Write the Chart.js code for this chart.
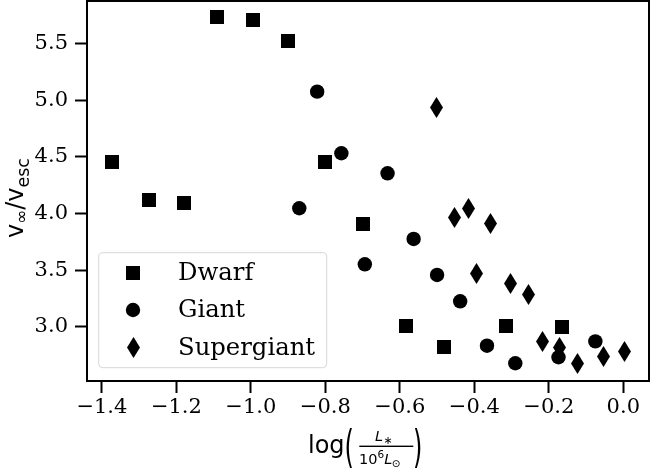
<!DOCTYPE html>
<html><head><meta charset="utf-8">
<script src="https://cdn.jsdelivr.net/npm/chart.js@4"></script>
<style>html,body{margin:0;padding:0;background:#fff}#wrap{width:650px;height:475px}</style>
</head><body><div id="wrap"><canvas id="c" width="650" height="475"></canvas></div>
<script>
// ---- data ----
const seriesNames = ['Dwarf', 'Giant', 'Supergiant'];
const dwarfX = [-1.372, -1.273, -1.180, -1.090, -0.995, -0.900, -0.800, -0.699, -0.583, -0.482, -0.314, -0.165];
const dwarfY = [4.452, 4.117, 4.090, 5.733, 5.707, 5.527, 4.452, 3.905, 3.006, 2.818, 3.006, 2.994];
const giantX = [-0.870, -0.822, -0.757, -0.694, -0.633, -0.563, -0.500, -0.438, -0.366, -0.290, -0.174, -0.075];
const giantY = [4.046, 5.076, 4.532, 3.551, 4.355, 3.775, 3.457, 3.224, 2.832, 2.677, 2.730, 2.870];
const superX = [-0.502, -0.453, -0.415, -0.393, -0.357, -0.304, -0.255, -0.216, -0.172, -0.123, -0.054, 0.003];
const superY = [4.938, 3.963, 4.046, 3.472, 3.910, 3.383, 3.280, 2.865, 2.815, 2.677, 2.738, 2.779];
const xTicks = [-1.4, -1.2, -1.0, -0.8, -0.6, -0.4, -0.2, 0.0];
const yTicks = [3.0, 3.5, 4.0, 4.5, 5.0, 5.5];
const xRange = [-1.44, 0.069];
const yRange = [2.52, 5.877];

// ---- marker images ----
function mk(w, h, draw) {
  const c = document.createElement('canvas'); c.width = w; c.height = h;
  const g = c.getContext('2d'); g.fillStyle = '#000'; draw(g, w, h); return c;
}
const sqImg = mk(14, 14, (g, w, h) => g.fillRect(0, 0, w, h));
const diImg = mk(13, 21, (g, w, h) => { g.beginPath(); g.moveTo(6.5, 0); g.lineTo(13, 10.5); g.lineTo(6.5, 21); g.lineTo(0, 10.5); g.closePath(); g.fill(); });
const markerStyles = [sqImg, 'circle', diImg];
const CIRCLE_R = 7.2;

const toPts = (xs, ys) => xs.map((x, i) => ({ x: x, y: ys[i] }));
const fmt = v => (v < 0 ? '\u2212' : '') + Math.abs(v).toFixed(1);
const tickFont = { family: 'DejaVu Serif', size: 21 };
const noPad = s => { s.paddingTop = 0; s.paddingBottom = 0; s.paddingLeft = 0; s.paddingRight = 0; };

const crisp = {
  id: 'crisp',
  beforeDatasetsDraw(chart) { chart.ctx.imageSmoothingEnabled = false; },
  afterDatasetsDraw(chart) { chart.ctx.imageSmoothingEnabled = true; }
};

const frame = {
  id: 'frame',
  afterDraw(chart) {
    const ctx = chart.ctx, a = chart.chartArea;
    ctx.save();
    ctx.strokeStyle = '#000'; ctx.lineWidth = 2;
    ctx.strokeRect(a.left, a.top, a.right - a.left, a.bottom - a.top);

    // legend
    const lx = 98.7, ly = 252.7, lw = 228, lh = 115, r = 4;
    ctx.beginPath();
    ctx.moveTo(lx + r, ly); ctx.lineTo(lx + lw - r, ly); ctx.arcTo(lx + lw, ly, lx + lw, ly + r, r);
    ctx.lineTo(lx + lw, ly + lh - r); ctx.arcTo(lx + lw, ly + lh, lx + lw - r, ly + lh, r);
    ctx.lineTo(lx + r, ly + lh); ctx.arcTo(lx, ly + lh, lx, ly + lh - r, r);
    ctx.lineTo(lx, ly + r); ctx.arcTo(lx, ly, lx + r, ly, r); ctx.closePath();
    ctx.fillStyle = 'rgba(255,255,255,0.8)'; ctx.fill();
    ctx.strokeStyle = 'rgba(204,204,204,0.8)'; ctx.lineWidth = 1; ctx.stroke();
    const rows = [272.7, 310, 347.3];
    ctx.fillStyle = '#000';
    ctx.font = '24.3px "DejaVu Serif"'; ctx.textBaseline = 'middle'; ctx.textAlign = 'left';
    chart.data.datasets.forEach((ds, i) => {
      const st = ds.pointStyle;
      if (typeof st === 'string') {
        ctx.beginPath(); ctx.arc(133, rows[i], CIRCLE_R, 0, Math.PI * 2); ctx.fill();
      } else {
        ctx.drawImage(st, Math.round(133 - st.width / 2), Math.round(rows[i] - st.height / 2));
      }
      ctx.fillText(ds.label, 178, rows[i] + 1);
    });

    // x label: log( L* / 10^6 L_sun )
    ctx.textBaseline = 'alphabetic';
    ctx.font = '24px "DejaVu Sans"';
    ctx.fillText('log', 308, 453);
    const parenScale = 1.87;
    ctx.save(); ctx.translate(344.5, 462); ctx.scale(1, parenScale); ctx.fillText('(', 0, 0); ctx.restore();
    ctx.save(); ctx.translate(413, 462); ctx.scale(1, parenScale); ctx.fillText(')', 0, 0); ctx.restore();
    ctx.fillRect(359.3, 445.6, 54, 1.4);
    // numerator
    ctx.font = 'italic 14.5px "DejaVu Sans"';
    ctx.fillText('L', 375, 441.3);
    let nx = 375 + ctx.measureText('L').width;
    ctx.font = '11px "DejaVu Sans"';
    ctx.fillText('\u2217', nx + 0.5, 443.5);
    // denominator
    ctx.font = '14.5px "DejaVu Sans"';
    ctx.fillText('10', 359, 464);
    let dx = 359 + ctx.measureText('10').width;
    ctx.font = '10.5px "DejaVu Sans"';
    ctx.fillText('6', dx, 458);
    dx += ctx.measureText('6').width;
    ctx.font = 'italic 14.5px "DejaVu Sans"';
    ctx.fillText('L', dx, 464);
    dx += ctx.measureText('L').width;
    ctx.font = '10.5px "DejaVu Sans"';
    ctx.fillText('\u2299', dx - 0.5, 467);

    // y label: v_inf / v_esc
    const pieces = [
      { t: 'v', f: '24px "DejaVu Sans"', dy: 0 },
      { t: '\u221E', f: '16.8px "DejaVu Sans"', dy: 4 },
      { t: '/', f: '24px "DejaVu Sans"', dy: 0 },
      { t: 'v', f: '24px "DejaVu Sans"', dy: 0 },
      { t: 'esc', f: '17.5px "DejaVu Sans"', dy: 5.5 }
    ];
    let tw = 0;
    pieces.forEach(p => { ctx.font = p.f; p.w = ctx.measureText(p.t).width; tw += p.w; });
    ctx.translate(23, 198); ctx.rotate(-Math.PI / 2);
    let px = -tw / 2;
    pieces.forEach(p => { ctx.font = p.f; ctx.fillText(p.t, px, p.dy); px += p.w; });
    ctx.restore();
  }
};

new Chart(document.getElementById('c'), {
  type: 'scatter',
  data: {
    datasets: [
      { label: seriesNames[0], data: toPts(dwarfX, dwarfY), pointStyle: markerStyles[0], pointRadius: 7, pointHoverRadius: 7, order: 2, backgroundColor: '#000', borderWidth: 0 },
      { label: seriesNames[1], data: toPts(giantX, giantY), pointStyle: markerStyles[1], pointRadius: CIRCLE_R, pointHoverRadius: CIRCLE_R, order: 1, backgroundColor: '#000', borderColor: '#000', borderWidth: 0 },
      { label: seriesNames[2], data: toPts(superX, superY), pointStyle: markerStyles[2], pointRadius: 7, pointHoverRadius: 7, order: 0, backgroundColor: '#000', borderWidth: 0 }
    ]
  },
  options: {
    responsive: false, animation: false, devicePixelRatio: 1,
    layout: { autoPadding: false, padding: { top: 1, right: 1, left: 0, bottom: 0 } },
    plugins: { legend: { display: false }, tooltip: { enabled: false } },
    scales: {
      x: {
        type: 'linear', min: xRange[0], max: xRange[1],
        afterBuildTicks: s => { s.ticks = xTicks.map(v => ({ value: v })); },
        afterFit: s => { s.height = 94; noPad(s); },
        ticks: { font: tickFont, color: '#000', padding: 2, maxRotation: 0, callback: v => fmt(v) },
        grid: { drawOnChartArea: false, drawTicks: true, tickLength: 12, tickWidth: 2, tickColor: '#000' },
        border: { display: true, width: 2, color: '#000' }
      },
      y: {
        type: 'linear', min: yRange[0], max: yRange[1],
        afterBuildTicks: s => { s.ticks = yTicks.map(v => ({ value: v })); },
        afterFit: s => { s.width = 87; noPad(s); },
        ticks: { font: tickFont, color: '#000', padding: 7, callback: v => fmt(v) },
        grid: { drawOnChartArea: false, drawTicks: true, tickLength: 12, tickWidth: 2, tickColor: '#000' },
        border: { display: true, width: 2, color: '#000' }
      }
    }
  },
  plugins: [crisp, frame]
});
</script>
</body></html>
